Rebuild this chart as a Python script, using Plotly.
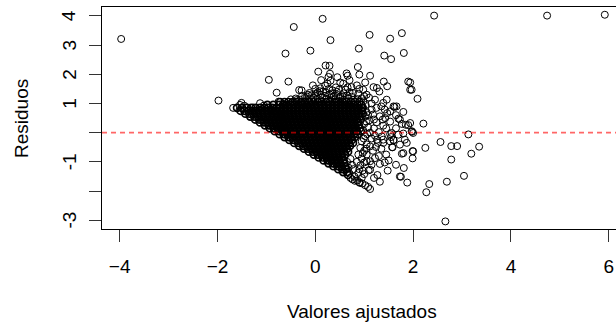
import plotly.graph_objects as go

# ---- data (fitted value, residual) ----
outlier_points = [
    (-3.97, 3.21), (-1.98, 1.10), (2.43, 4.01), (4.74, 4.01), (5.92, 4.04),
    (2.66, -3.04), (3.13, -0.06), (3.35, -0.48), (3.19, -0.72), (3.04, -1.48),
    (2.90, -0.46), (2.78, -0.46), (2.78, -0.92), (2.69, -1.68), (2.56, -0.32),
    (2.33, -1.76), (2.27, -2.04), (2.25, -0.52), (2.21, 0.31), (2.09, 1.16),
]

upper_points = [
    (-0.44, 3.62), (0.15, 3.90), (0.31, 3.17), (-0.61, 2.71), (-0.10, 2.81),
    (0.89, 2.88), (1.11, 3.35), (1.53, 3.22), (1.77, 3.41), (1.41, 2.64),
    (1.55, 2.52), (1.81, 2.73), (0.21, 2.30), (0.29, 2.29), (0.06, 2.09),
    (0.30, 2.02), (0.27, 1.91), (0.87, 2.25), (0.64, 2.03), (0.66, 1.95),
    (0.90, 1.99), (1.12, 1.95), (-0.95, 1.81), (-0.55, 1.75), (-0.79, 1.37),
    (-0.33, 1.46), (0.31, 1.78), (0.51, 1.72), (0.57, 1.68), (1.40, 1.75),
    (1.90, 1.75), (1.94, 1.47), (1.47, 1.59), (1.26, 1.53), (1.19, 1.56),
    (1.31, 1.41), (0.98, 1.47), (1.05, 1.30), (0.74, 1.56), (0.77, 1.36),
    (0.20, 1.61), (0.16, 1.41), (0.00, 1.50), (-0.28, 1.45), (0.51, 1.24),
    (1.46, 1.13), (1.66, 0.90), (1.39, 1.02), (1.22, 1.13), (1.15, 0.79),
    (0.98, 1.07), (-0.75, 1.06), (-0.48, 1.04), (-1.13, 1.01), (-1.27, 0.86),
    (-0.89, 0.80), (-1.51, 1.02), (-1.54, 0.95), (-1.68, 0.85), (-1.45, 0.92),
    (-1.05, 0.93), (-0.65, 0.98), (-0.38, 1.12), (-0.15, 1.30), (0.05, 1.38),
    (0.35, 1.45), (0.42, 1.55), (0.62, 1.48), (0.85, 1.62), (1.02, 1.72),
    (0.25, 1.68), (-0.05, 1.62), (0.12, 1.80), (0.45, 1.90), (0.70, 1.80),
]

top_band_points = [
    (-0.50, 1.14), (-0.40, 1.17), (-0.31, 1.13), (-0.22, 1.19), (-0.13, 1.15),
    (-0.04, 1.20), (0.05, 1.16), (0.14, 1.21), (0.23, 1.15), (0.32, 1.19),
    (0.41, 1.14), (0.50, 1.18), (0.59, 1.13), (0.68, 1.17), (0.77, 1.12),
    (0.86, 1.15), (-0.27, 1.26), (-0.17, 1.24), (-0.08, 1.28), (0.02, 1.25),
    (0.11, 1.30), (0.20, 1.26), (0.29, 1.31), (0.38, 1.25), (0.47, 1.29),
    (0.56, 1.24), (0.65, 1.27), (0.74, 1.23), (-0.12, 1.36), (0.00, 1.33),
    (0.09, 1.42), (0.22, 1.37), (0.33, 1.34), (0.44, 1.40), (0.58, 1.35),
    (0.70, 1.39), (0.88, 1.33), (1.00, 1.25), (0.10, 1.52), (0.28, 1.50),
    (0.48, 1.47), (0.66, 1.55), (0.90, 1.50),
]

right_points = [
    (1.97, 0.05), (1.94, 1.72), (1.97, 1.47), (1.62, 0.88), (1.42, 0.79),
    (1.80, 0.71), (1.70, 0.48), (1.53, 0.38), (1.77, 0.30), (1.90, 0.26),
    (1.39, 0.24), (1.98, 0.03), (1.53, -0.05), (1.80, -0.03), (1.83, -0.24),
    (1.60, -0.25), (1.39, -0.24), (1.57, -0.50), (1.99, -0.63), (1.77, -0.72),
    (1.99, -0.88), (1.42, -1.02), (1.32, -1.07), (1.81, -1.21), (1.75, -1.51),
    (1.88, -1.71), (1.32, -1.68), (1.12, -1.93), (1.08, -1.86), (0.90, -1.70),
    (0.81, -1.65), (1.27, -1.45), (1.09, -1.29), (1.12, -0.98), (1.05, -0.75),
    (1.24, -0.49), (1.85, 0.27), (1.73, -0.41), (1.73, -1.50), (1.58, -0.50),
    (1.53, -0.30), (1.70, -0.07), (1.39, -0.35), (1.47, 0.67), (1.73, 0.45),
    (1.94, 0.33), (2.00, -0.01), (1.60, 0.90), (1.36, -0.13), (1.60, -0.26),
    (1.80, -0.70), (2.00, -0.64), (1.22, -0.87), (1.05, -0.98), (1.12, -1.27),
    (0.91, -1.72), (1.26, -0.24), (1.12, -0.47), (1.56, -0.01), (1.87, -0.35),
    (1.43, 0.50), (1.32, 0.56), (1.53, 0.73),
    (0.98, 0.85), (1.05, 0.70), (1.02, 0.55), (1.10, 0.42), (1.00, 0.30),
    (1.08, 0.18), (0.98, 0.08), (1.12, 0.00), (1.02, -0.12), (1.15, -0.20),
    (0.95, -0.30), (1.05, -0.40), (0.92, -0.52), (1.00, -0.62), (0.88, -0.75),
    (0.95, -0.88), (0.85, -1.00), (0.92, -1.12), (0.78, -1.25), (0.88, -1.38),
    (0.80, -1.50), (0.95, -1.55), (1.00, -1.42), (0.72, -1.55), (1.18, 0.62),
    (1.25, 0.35), (1.20, 0.15), (1.30, 0.02), (1.22, -0.10), (1.28, -0.35),
    (1.18, -0.62), (1.30, -0.80), (1.15, -1.10), (1.20, -1.55), (1.35, 0.90),
    (1.25, 0.85), (1.15, 1.00), (0.95, 1.18), (1.10, 1.20), (1.20, 0.45),
    (1.38, 0.45), (1.45, 0.15), (1.35, -0.55), (1.45, -0.75), (1.50, -0.95),
    (1.65, -1.10), (1.48, -1.30), (1.55, -0.15), (1.65, 0.15), (1.65, 0.60),
    (0.65, -1.00), (0.72, -0.90), (0.68, -1.20), (0.75, -1.10), (0.70, -1.40),
    (0.76, -1.60), (0.86, -1.64), (0.96, -1.74), (1.02, -1.80),
    (1.03, 0.95), (1.08, 0.60), (1.04, 0.38), (1.06, -0.05), (0.99, -0.20),
    (1.04, -0.55), (0.97, -0.70), (1.00, -1.02), (0.90, -1.25), (0.97, -1.30),
]

# dense core of the cloud, one residual level per row
core_resid_levels = [
    1.05, 0.95, 0.85, 0.75, 0.65, 0.55, 0.45, 0.35, 0.25, 0.15, 0.05,
    -0.05, -0.15, -0.25, -0.35, -0.45, -0.55, -0.65, -0.75, -0.85,
    -0.95, -1.05, -1.15, -1.25, -1.35, -1.45,
]
core_fitted_rows = [
    [-0.72, -0.63, -0.55, -0.46, -0.38, -0.29, -0.21, -0.12, -0.04, 0.05, 0.13, 0.22, 0.30, 0.39, 0.47, 0.56, 0.64, 0.73, 0.81, 0.90],
    [-0.98, -0.86, -0.74, -0.66, -0.58, -0.50, -0.42, -0.34, -0.26, -0.18, -0.10, -0.02, 0.06, 0.14, 0.22, 0.30, 0.38, 0.46, 0.54, 0.62, 0.70, 0.78, 0.86, 0.94],
    [-1.60, -1.50, -1.40, -1.31, -1.22, -1.13, -1.04, -0.96, -0.88, -0.80, -0.72, -0.64, -0.56, -0.48, -0.40, -0.32, -0.24, -0.16, -0.08, 0.00, 0.08, 0.16, 0.24, 0.32, 0.40, 0.48, 0.56, 0.64, 0.72, 0.80, 0.88, 0.96],
    [-1.53, -1.45, -1.37, -1.29, -1.21, -1.13, -1.05, -0.97, -0.89, -0.81, -0.73, -0.65, -0.57, -0.49, -0.41, -0.33, -0.25, -0.17, -0.09, -0.01, 0.07, 0.15, 0.23, 0.31, 0.39, 0.47, 0.55, 0.63, 0.71, 0.79, 0.87, 0.95],
    [-1.43, -1.35, -1.27, -1.19, -1.11, -1.03, -0.95, -0.87, -0.79, -0.71, -0.63, -0.55, -0.47, -0.39, -0.31, -0.23, -0.15, -0.07, 0.01, 0.09, 0.17, 0.25, 0.33, 0.41, 0.49, 0.57, 0.65, 0.73, 0.81, 0.89, 0.97],
    [-1.33, -1.25, -1.17, -1.09, -1.01, -0.93, -0.85, -0.77, -0.69, -0.61, -0.53, -0.45, -0.37, -0.29, -0.21, -0.13, -0.05, 0.03, 0.11, 0.19, 0.27, 0.35, 0.43, 0.51, 0.59, 0.67, 0.75, 0.83, 0.91],
    [-1.23, -1.15, -1.07, -0.99, -0.91, -0.83, -0.75, -0.67, -0.59, -0.51, -0.43, -0.35, -0.27, -0.19, -0.11, -0.03, 0.05, 0.13, 0.21, 0.29, 0.37, 0.45, 0.53, 0.61, 0.69, 0.77, 0.85, 0.93],
    [-1.13, -1.05, -0.97, -0.89, -0.81, -0.73, -0.65, -0.57, -0.49, -0.41, -0.33, -0.25, -0.17, -0.09, -0.01, 0.07, 0.15, 0.23, 0.31, 0.39, 0.47, 0.55, 0.63, 0.71, 0.79, 0.87],
    [-1.03, -0.95, -0.87, -0.79, -0.71, -0.63, -0.55, -0.47, -0.39, -0.31, -0.23, -0.15, -0.07, 0.01, 0.09, 0.17, 0.25, 0.33, 0.41, 0.49, 0.57, 0.65, 0.73, 0.81, 0.89],
    [-0.93, -0.85, -0.77, -0.69, -0.61, -0.53, -0.45, -0.37, -0.29, -0.21, -0.13, -0.05, 0.03, 0.11, 0.19, 0.27, 0.35, 0.43, 0.51, 0.59, 0.67, 0.75, 0.83, 0.91],
    [-0.83, -0.75, -0.67, -0.59, -0.51, -0.43, -0.35, -0.27, -0.19, -0.11, -0.03, 0.05, 0.13, 0.21, 0.29, 0.37, 0.45, 0.53, 0.61, 0.69, 0.77, 0.85, 0.93],
    [-0.73, -0.65, -0.57, -0.49, -0.41, -0.33, -0.25, -0.17, -0.09, -0.01, 0.07, 0.15, 0.23, 0.31, 0.39, 0.47, 0.55, 0.63, 0.71, 0.79, 0.87],
    [-0.63, -0.55, -0.47, -0.39, -0.31, -0.23, -0.15, -0.07, 0.01, 0.09, 0.17, 0.25, 0.33, 0.41, 0.49, 0.57, 0.65, 0.73, 0.81],
    [-0.53, -0.45, -0.37, -0.29, -0.21, -0.13, -0.05, 0.03, 0.11, 0.19, 0.27, 0.35, 0.43, 0.51, 0.59, 0.67, 0.75],
    [-0.43, -0.35, -0.27, -0.19, -0.11, -0.03, 0.05, 0.13, 0.21, 0.29, 0.37, 0.45, 0.53, 0.61, 0.69, 0.77],
    [-0.33, -0.25, -0.17, -0.09, -0.01, 0.07, 0.15, 0.23, 0.31, 0.39, 0.47, 0.55, 0.63, 0.71],
    [-0.23, -0.15, -0.07, 0.01, 0.09, 0.17, 0.25, 0.33, 0.41, 0.49, 0.57, 0.65],
    [-0.13, -0.05, 0.03, 0.11, 0.19, 0.27, 0.35, 0.43, 0.51, 0.59, 0.67],
    [-0.03, 0.05, 0.13, 0.21, 0.29, 0.37, 0.45, 0.53, 0.61],
    [0.07, 0.15, 0.23, 0.31, 0.39, 0.47, 0.55],
    [0.17, 0.25, 0.33, 0.41, 0.49, 0.57],
    [0.27, 0.35, 0.43, 0.51, 0.59],
    [0.37, 0.45, 0.53, 0.61],
    [0.47, 0.55, 0.63],
    [0.57, 0.65],
    [0.67],
]

x_tick_vals = [-4, -2, 0, 2, 4, 6]
y_tick_vals = [-3, -2, -1, 0, 1, 2, 3, 4]
y_label_vals = [-3, -1, 1, 2, 3, 4]
y_label_text = ["-3", "-1", "1", "2", "3", "4"]

# ---- assemble ----
fitted, resid = [], []
for group in (outlier_points, upper_points, top_band_points, right_points):
    for fx, ry in group:
        fitted.append(fx)
        resid.append(ry)
core_fitted, core_resid = [], []
for ry, row in zip(core_resid_levels, core_fitted_rows):
    for fx in row:
        core_fitted.append(fx)
        core_resid.append(ry)

FONT = "Liberation Sans, Arial, sans-serif"
TXT = dict(family=FONT, size=19, color="black")

fig = go.Figure()
fig.add_trace(go.Scatter(
    x=core_fitted, y=core_resid, mode="markers",
    marker=dict(symbol="circle-open", size=7, color="black", line=dict(width=1.7)),
    hoverinfo="skip", showlegend=False,
))
fig.add_trace(go.Scatter(
    x=fitted, y=resid, mode="markers",
    marker=dict(symbol="circle-open", size=7, color="black", line=dict(width=1)),
    hoverinfo="skip", showlegend=False,
))

fig.add_shape(
    type="line", xref="paper", x0=0, x1=1, yref="y", y0=0, y1=0,
    line=dict(color="rgba(255,0,0,0.6)", width=1.6, dash="5px,4px"),
    layer="above",
)

annotations = [
    dict(text="Valores ajustados", xref="paper", yref="paper",
         x=0.5068, y=-0.372, xanchor="center", yanchor="middle",
         showarrow=False, font=TXT),
    dict(text="Residuos", xref="paper", yref="paper",
         x=-0.1576, y=0.5, xanchor="center", yanchor="middle",
         textangle=-90, showarrow=False, font=TXT),
]
for v, t in zip(y_label_vals, y_label_text):
    annotations.append(dict(
        text=t, xref="paper", yref="y", x=-0.0635, y=v,
        xanchor="center", yanchor="middle", textangle=-90,
        showarrow=False, font=TXT,
    ))

fig.update_layout(
    width=616, height=324,
    margin=dict(l=102, r=0, t=7, b=95),
    paper_bgcolor="white", plot_bgcolor="white",
    font=TXT,
    xaxis=dict(
        range=[-4.362, 6.149], tickvals=x_tick_vals, ticks="outside",
        ticklen=12, tickwidth=1, tickcolor="#333333", automargin=False,
        showline=True, linecolor="black", linewidth=1, mirror=True,
        showgrid=False, zeroline=False, ticklabelstandoff=8,
        tickfont=TXT,
    ),
    yaxis=dict(
        range=[-3.30, 4.305], tickvals=y_tick_vals, showticklabels=False,
        ticks="outside", ticklen=12, tickwidth=1,
        tickcolor="#333333", showline=True, linecolor="black", linewidth=1,
        mirror=False, showgrid=False, zeroline=False, automargin=False,
    ),
    annotations=annotations,
)

fig.write_html(
    "out.html",
    config={"displayModeBar": False},
    post_script="document.body.style.margin='0';document.body.style.overflow='hidden';",
)
